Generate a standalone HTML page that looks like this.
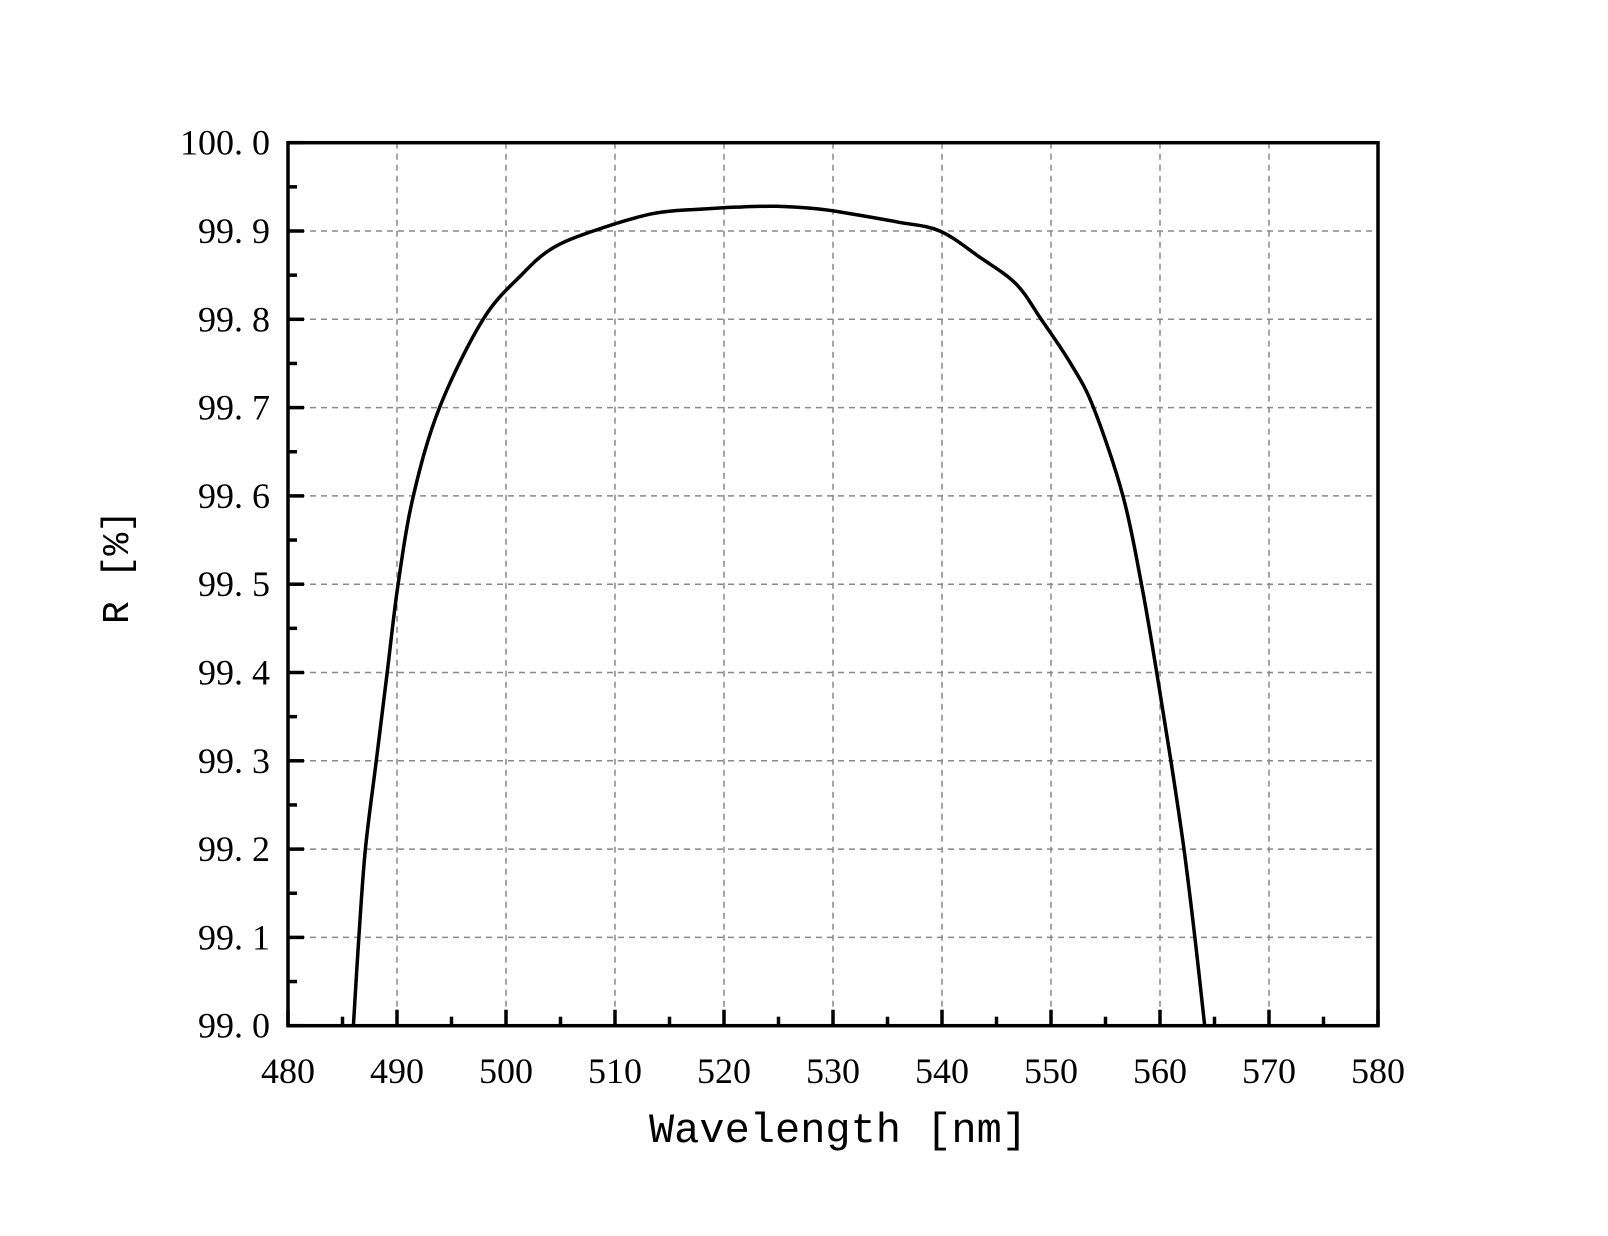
<!DOCTYPE html>
<html><head><meta charset="utf-8"><style>
body{margin:0;background:#fff}
svg text{font-family:"Liberation Serif","Noto Serif CJK SC",serif;fill:#000}
</style></head><body>
<svg width="1608" height="1231" viewBox="0 0 1608 1231">
<g id="grid"></g>
<g id="ticks"></g>
<path id="curve" fill="none" stroke="#000" stroke-width="3.5" stroke-linejoin="round"/>
<rect x="288" y="142.7" width="1090" height="883" fill="none" stroke="#000" stroke-width="3.5"/>
<text x="838" y="1142" text-anchor="middle" font-size="42" style="font-family:'Liberation Mono',monospace">Wavelength [nm]</text>
<text transform="translate(128,567) rotate(-90)" text-anchor="middle" font-size="38" style="font-family:'Liberation Mono',monospace">R [%]</text>
</svg>
<script>
const wavelengths=[486.0,486.5,487.1,488.1,489.1,490.1,491.5,493.9,497.9,501.4,504.2,508.0,513.6,518.3,521.1,524.8,528.6,531.4,536.0,539.8,543.5,546.8,549.1,551.8,553.9,556.6,558.3,559.7,561.0,562.2,563.2,564.1];
const reflectance=[99.0,99.1,99.2,99.3,99.4,99.5,99.6,99.7,99.8,99.85,99.88,99.9,99.92,99.925,99.927,99.928,99.925,99.92,99.91,99.9,99.87,99.84,99.8,99.75,99.7,99.6,99.5,99.4,99.3,99.2,99.1,99.0];
const xTicks=[480,490,500,510,520,530,540,550,560,570,580];
const yTicks=[99.0,99.1,99.2,99.3,99.4,99.5,99.6,99.7,99.8,99.9,100.0];
const X0=288,X1=1378,Y0=1025.7,Y1=142.7;
const sx=v=>X0+(v-480)/100*(X1-X0);
const sy=v=>Y0-(v-99)/1*(Y0-Y1);
const NS="http://www.w3.org/2000/svg";
const grid=document.getElementById('grid'),ticks=document.getElementById('ticks');
function ln(p,x1,y1,x2,y2,w,dash,c){const l=document.createElementNS(NS,'line');l.setAttribute('x1',x1);l.setAttribute('y1',y1);l.setAttribute('x2',x2);l.setAttribute('y2',y2);l.setAttribute('stroke',c||'#000');l.setAttribute('stroke-width',w);if(dash)l.setAttribute('stroke-dasharray',dash);p.appendChild(l);return l;}
function tx(s,x,y,a){const t=document.createElementNS(NS,'text');t.textContent=s;t.setAttribute('x',x);t.setAttribute('y',y);t.setAttribute('text-anchor',a);t.setAttribute('font-size','36');ticks.appendChild(t);return t;}
xTicks.forEach((v,i)=>{const x=sx(v);
 if(i>0&&i<xTicks.length-1){const g=ln(grid,x,Y1,x,Y0,1.5,'6,5','#888');
 
 }
 const t=ln(ticks,x,Y0,x,Y0-16,3.5);
 
 
 if(i<xTicks.length-1){const m=ln(ticks,sx(v+5),Y0,sx(v+5),Y0-9,3.5);
 
 }
 const l=tx(String(v),x,1083,'middle');
 
 });
yTicks.forEach((v,i)=>{const y=sy(v);
 if(i>0&&i<yTicks.length-1){const g=ln(grid,X0,y,X1,y,1.5,'6,5','#888');
 
 }
 const t=ln(ticks,X0,y,X0+16,y,3.5);
 
 
 if(i<yTicks.length-1){const m=ln(ticks,X0,sy(v+0.05),X0+9,sy(v+0.05),3.5);
 
 }
 const l=tx(v.toFixed(1).replace('.','. '),270,y+12,'end');
 
 });
// Catmull-Rom smooth path
const P=wavelengths.map((w,i)=>[sx(w),sy(reflectance[i])]);
let d='M'+P[0][0]+','+P[0][1];
for(let i=0;i<P.length-1;i++){const p0=P[i-1]||P[i],p1=P[i],p2=P[i+1],p3=P[i+2]||P[i+1];
 d+=' C'+(p1[0]+(p2[0]-p0[0])/6)+','+(p1[1]+(p2[1]-p0[1])/6)+' '+(p2[0]-(p3[0]-p1[0])/6)+','+(p2[1]-(p3[1]-p1[1])/6)+' '+p2[0]+','+p2[1];}
document.getElementById('curve').setAttribute('d',d);
</script>
</body></html>
